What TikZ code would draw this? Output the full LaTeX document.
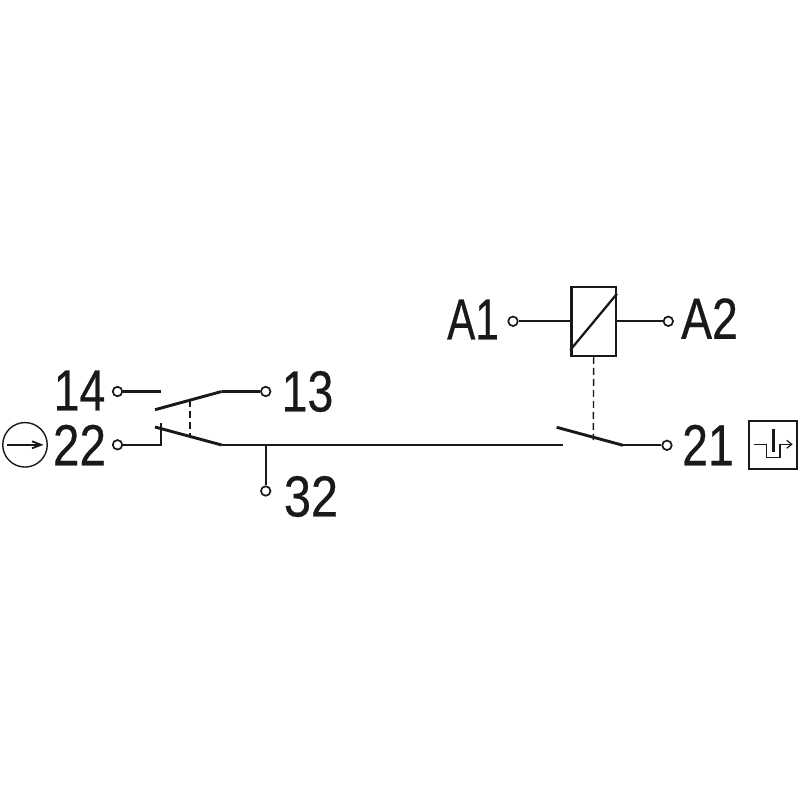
\documentclass[tikz,border=0pt]{standalone}
\usepackage{fontspec}
\setmainfont[FakeStretch=0.8,FakeBold=0.4]{Liberation Sans}
\usetikzlibrary{arrows.meta,calc}
\tikzset{
  wire/.style={draw=black!90,line width=2.3pt,line cap=butt},
  blade/.style={wire,line width=2.9pt},
  term/.style={circle,draw=black!90,fill=white,line width=1.7pt,minimum size=9.5pt,inner sep=0pt},
  lab/.style={inner sep=0pt,text=black!90,font=\fontsize{58}{58}\selectfont},
  link/.style={draw=black!90,line width=1.4pt,dash pattern=on 7pt off 4pt},
  frame/.style={draw=black!90,line width=1.7pt,inner sep=0pt},
}
\begin{document}
\begin{tikzpicture}[x=1pt,y=-1pt]
\useasboundingbox (0,0) rectangle (800,800);
% junctions
\coordinate (c14) at (161,391.5);
\coordinate (k13) at (221.7,391.5);
\coordinate (e13) at (155,409.7);
\coordinate (c22) at (161,444.8);
\coordinate (c22t) at (161,422.7);
\coordinate (e22) at (155,427);
\coordinate (k22) at (221.7,445);
\coordinate (j32) at (265.7,445);
\coordinate (c21) at (563,445);
\coordinate (e21) at (556.7,427.3);
\coordinate (k21) at (623,445.3);
\coordinate (d1) at (190,400);
\coordinate (d2) at (190,436);
\coordinate (d4) at (593.3,440);
% relay
\node[frame,line width=2.2pt,minimum width=44.5pt,minimum height=69pt] (coil) at (593.7,321.3) {};
\draw[wire] ($(coil.south west)+(0,-7)$) -- ($(coil.north east)+(0,8)$);
% terminals
\node[term] (t14) at (117.5,391.5) {};
\node[term] (t13) at (265.7,391.5) {};
\node[term] (t22) at (117.5,444.8) {};
\node[term] (t32) at (265.7,491) {};
\node[term] (t21) at (667,445.3) {};
\node[term] (tA1) at (513,321.3) {};
\node[term] (tA2) at (668.3,321.3) {};
% wires
\draw[wire] (t14) -- (c14);
\draw[wire] (t13) -- (k13);
\draw[blade] (k13) -- (e13);
\draw[wire] (t22) -- (c22) -- (c22t);
\draw[blade] (e22) -- (k22);
\draw[wire] (k22) -- (c21);
\draw[wire] (j32) -- (t32);
\draw[blade] (e21) -- (k21);
\draw[wire] (k21) -- (t21);
\draw[wire] (tA1) -- (coil);
\draw[wire] (coil) -- (tA2);
\draw[link] (d1) -- (d2);
\draw[link] (coil.south) -- (d4);
% labels
\node[lab] (l14) at (79.5,390.5) {14};
\node[lab,xscale=1.03] (l22) at (79.5,445) {22};
\node[lab] (l13) at (307.5,391.5) {13};
\node[lab,xscale=1.05] (l32) at (311,496.5) {32};
\node[lab] (l21) at (708,445) {21};
\node[lab,xscale=.91] (lA1) at (473,319.5) {A1};
\node[lab] (lA2) at (709.5,318.5) {A2};
% circled arrow
\node[circle,draw=black!90,line width=1.4pt,minimum size=44.5pt,inner sep=0pt] (clock) at (25,444.8) {};
\coordinate (a1) at (7,444.8);
\coordinate (a2) at (43.5,444.8);
\draw[black!90,line width=1.7pt,-{Straight Barb[length=9pt,width=7pt,line width=1.8pt]}] (a1) -- (a2);
% function box
\node[frame,minimum width=47.4pt,minimum height=47.7pt] (fbox) at (773,444.8) {};
\coordinate (b1) at (754,444.3);
\coordinate (b2) at (766.7,444.3);
\coordinate (b3) at (766.7,457.3);
\coordinate (b4) at (780,457.3);
\coordinate (b5) at (780,444.3);
\coordinate (b6) at (792.7,444.3);
\coordinate (b7) at (773.3,429.3);
\coordinate (b8) at (773.3,451.7);
\draw[black!90,line width=1.4pt,-{Straight Barb[length=5pt,width=8pt,line width=1.2pt]}] (b1) -- (b2) -- (b3) -- (b4) -- (b5) -- (b6);
\draw[black!90,line width=3pt] (b7) -- (b8);
\end{tikzpicture}
\end{document}
